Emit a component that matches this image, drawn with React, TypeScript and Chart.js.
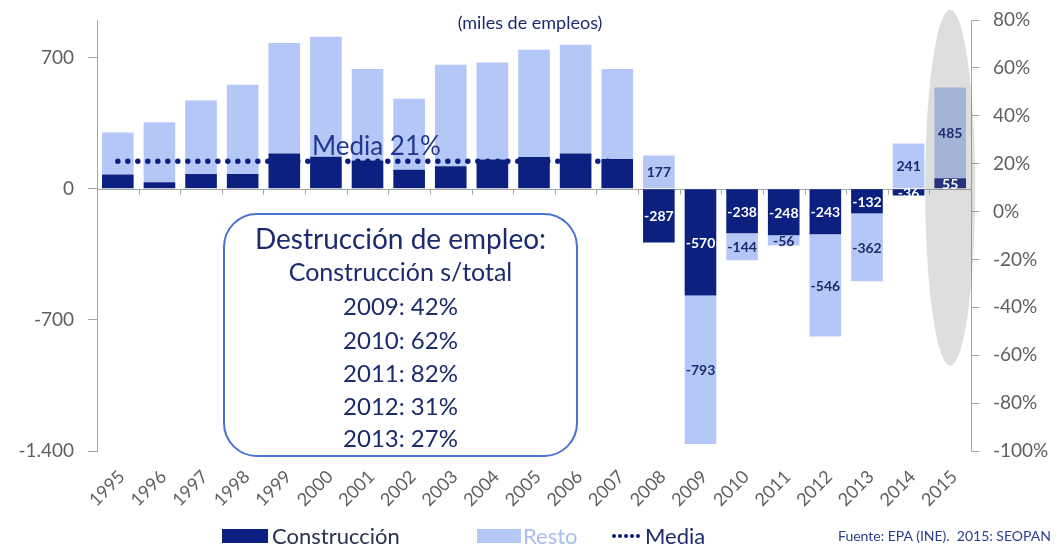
import React, { useEffect, useRef } from 'react';
import { Chart, registerables } from 'chart.js';

Chart.register(...registerables);

// ---------- data ----------
const years = ['1995', '1996', '1997', '1998', '1999', '2000', '2001', '2002', '2003', '2004', '2005',
  '2006', '2007', '2008', '2009', '2010', '2011', '2012', '2013', '2014', '2015'];
const construccion = [75, 34, 78, 78, 187, 170, 150, 101, 119, 155, 169, 187, 158, -287, -570, -238, -248, -243, -132, -36, 55];
const resto = [225, 320, 392, 476, 590, 640, 488, 379, 542, 518, 572, 581, 480, 177, -793, -144, -56, -546, -362, 241, 485];
const media = [21, 21, 21, 21, 21, 21, 21, 21, 21, 21, 21, 21, 21, null, null, null, null, null, null, null, null];
const leftTicks = [-1400, -700, 0, 700];
const firstLabelledYear = '2008';
const highlightYear = '2015';
const boxLines = ['Destrucción de empleo:', 'Construcción s/total', '2009: 42%', '2010: 62%', '2011: 82%', '2012: 31%', '2013: 27%'];

// ---------- style ----------
const NAVY = '#0c2080';
const LIGHT = '#b5c7f6';
const AXIS = '#a6a6a6';
const TICK_TEXT = '#5f5f5f';
const TEXT_NAVY = '#1c2b6e';
const FONT = 'Lato, "Open Sans", sans-serif';

function fmtMiles(v: number): string {
  const s = Math.abs(v).toString().replace(/\B(?=(\d{3})+(?!\d))/g, '.');
  return (v < 0 ? '-' : '') + s;
}

const decorPlugin = {
  id: 'decor',
  beforeDatasetsDraw(chart: any) {
    const { ctx, chartArea, scales } = chart;
    const y0 = Math.round(scales.y.getPixelForValue(0)) + 0.5;
    ctx.save();
    ctx.strokeStyle = AXIS;
    ctx.lineWidth = 1;
    ctx.beginPath();
    ctx.moveTo(chartArea.left, y0);
    ctx.lineTo(chartArea.right, y0);
    const n = years.length;
    const w = (chartArea.right - chartArea.left) / n;
    for (let i = 1; i < n; i++) {
      const x = Math.round(chartArea.left + i * w) + 0.5;
      ctx.moveTo(x, y0);
      ctx.lineTo(x, y0 + 5);
    }
    ctx.stroke();
    ctx.restore();
  },
  afterDatasetsDraw(chart: any) {
    const { ctx, scales } = chart;
    const y0 = scales.y.getPixelForValue(0);
    const hi = years.indexOf(highlightYear);
    const xh = scales.x.getPixelForValue(hi);
    ctx.save();
    ctx.fillStyle = 'rgba(117,117,117,0.24)';
    ctx.beginPath();
    ctx.ellipse(xh, y0 - 1, 25, 178, 0, 0, Math.PI * 2);
    ctx.fill();

    const start = years.indexOf(firstLabelledYear);
    ctx.font = `bold 14px ${FONT}`;
    ctx.textAlign = 'center';
    ctx.textBaseline = 'middle';
    const sets = [
      { idx: 1, values: construccion, color: '#ffffff' },
      { idx: 2, values: resto, color: TEXT_NAVY },
    ];
    for (const s of sets) {
      const meta = chart.getDatasetMeta(s.idx);
      for (let j = start; j < years.length; j++) {
        const el = meta.data[j];
        if (!el) continue;
        const c = el.getCenterPoint();
        ctx.fillStyle = s.color;
        ctx.fillText(String(s.values[j]), c.x, c.y + 1);
      }
    }
    ctx.restore();
  },
};

export default function App() {
  const ref = useRef<HTMLCanvasElement>(null);

  useEffect(() => {
    if (!ref.current) return;
    const chart = new Chart(ref.current, {
      type: 'bar',
      data: {
        labels: years,
        datasets: [
          {
            type: 'line',
            label: 'Media',
            data: media,
            yAxisID: 'y1',
            borderColor: NAVY,
            borderWidth: 5.5,
            borderDash: [0, 10],
            borderCapStyle: 'round',
            pointRadius: 0,
            fill: false,
            order: 0,
          } as any,
          {
            label: 'Construcción',
            data: construccion,
            backgroundColor: NAVY,
            stack: 's',
            yAxisID: 'y',
            barPercentage: 0.76,
            categoryPercentage: 1,
            order: 1,
          },
          {
            label: 'Resto',
            data: resto,
            backgroundColor: LIGHT,
            stack: 's',
            yAxisID: 'y',
            barPercentage: 0.76,
            categoryPercentage: 1,
            order: 2,
          },
        ],
      },
      options: {
        responsive: false,
        animation: false,
        layout: { padding: { top: 20, left: 0, right: 0, bottom: 0 } },
        plugins: {
          legend: { display: false },
          tooltip: { enabled: false },
        },
        scales: {
          x: {
            stacked: true,
            grid: { display: false },
            border: { display: false },
            ticks: {
              color: TICK_TEXT,
              font: { family: FONT, size: 18 },
              maxRotation: 45,
              minRotation: 45,
              autoSkip: false,
              padding: 7,
              labelOffset: 4,
            },
            afterFit: (s: any) => { s.height = 99; s.paddingTop = 0; s.paddingBottom = 0; },
          },
          y: {
            stacked: true,
            position: 'left',
            min: -1400,
            max: 900,
            afterBuildTicks: (s: any) => { s.ticks = leftTicks.map((v) => ({ value: v })); },
            grid: { drawOnChartArea: false, color: AXIS, tickLength: 9 },
            border: { color: AXIS },
            ticks: {
              color: TICK_TEXT,
              font: { family: FONT, size: 19 },
              padding: 14,
              callback: (v: any) => fmtMiles(Number(v)),
            },
            afterFit: (s: any) => { s.width = 97; s.paddingTop = 0; s.paddingBottom = 0; },
          },
          y1: {
            position: 'right',
            min: -100,
            max: 80,
            grid: { drawOnChartArea: false, color: AXIS, tickLength: 8 },
            border: { color: AXIS },
            ticks: {
              stepSize: 20,
              color: TICK_TEXT,
              font: { family: FONT, size: 19 },
              padding: 14,
              callback: (v: any) => `${v}%`,
            },
            afterFit: (s: any) => { s.width = 88; s.paddingTop = 0; s.paddingBottom = 0; },
          },
        },
      } as any,
      plugins: [decorPlugin],
    });
    return () => chart.destroy();
  }, []);

  const lineCenters = [238, 271, 306, 340, 373, 406, 438];

  return (
    <div style={{ position: 'fixed', left: 0, top: 0, width: 1059, height: 550, background: '#fff', fontFamily: FONT, overflow: 'hidden' }}>
      <canvas ref={ref} width={1059} height={550} style={{ position: 'absolute', left: 0, top: 0, width: 1059, height: 550 }} />

      <div style={{ position: 'absolute', left: 400, width: 260, top: 10, textAlign: 'center', fontSize: 18, color: TEXT_NAVY, lineHeight: '24px' }}>
        (miles de empleos)
      </div>

      <div style={{ position: 'absolute', left: 312, top: 129, fontSize: 26, color: '#233790', lineHeight: '32px', whiteSpace: 'nowrap' }}>
        Media 21%
      </div>

      <div style={{ position: 'absolute', left: 223, top: 213, width: 355, height: 244, boxSizing: 'border-box', border: '2px solid #4a72d0', borderRadius: 34, background: '#fff' }} />
      {boxLines.map((t, i) => (
        <div key={t} style={{ position: 'absolute', left: 223, width: 355, top: lineCenters[i] - 17, height: 34, lineHeight: '34px', textAlign: 'center', fontSize: i === 0 ? 28 : i === 1 ? 25 : 24, color: TEXT_NAVY, whiteSpace: 'nowrap' }}>
          {t}
        </div>
      ))}

      <div style={{ position: 'absolute', left: 222, top: 529, width: 46, height: 14, background: NAVY }} />
      <div style={{ position: 'absolute', left: 272, top: 521, lineHeight: '30px', fontSize: 22, color: '#2a3050', whiteSpace: 'nowrap' }}>Construcción</div>
      <div style={{ position: 'absolute', left: 477, top: 529, width: 44, height: 14, background: LIGHT }} />
      <div style={{ position: 'absolute', left: 523, top: 521, lineHeight: '30px', fontSize: 22, color: '#a9bdf0', whiteSpace: 'nowrap' }}>Resto</div>
      <div style={{ position: 'absolute', left: 612, top: 534, display: 'flex', gap: 2 }}>
        {[0, 1, 2, 3, 4].map((k) => (
          <div key={k} style={{ width: 4, height: 4, borderRadius: 2, background: NAVY }} />
        ))}
      </div>
      <div style={{ position: 'absolute', left: 645, top: 521, lineHeight: '30px', fontSize: 22, color: TEXT_NAVY, whiteSpace: 'nowrap' }}>Media</div>
      <div style={{ position: 'absolute', left: 838, top: 526, lineHeight: '20px', fontSize: 14, color: '#2a3f8f', whiteSpace: 'nowrap' }}>Fuente: EPA (INE).&nbsp; 2015: SEOPAN</div>
    </div>
  );
}
